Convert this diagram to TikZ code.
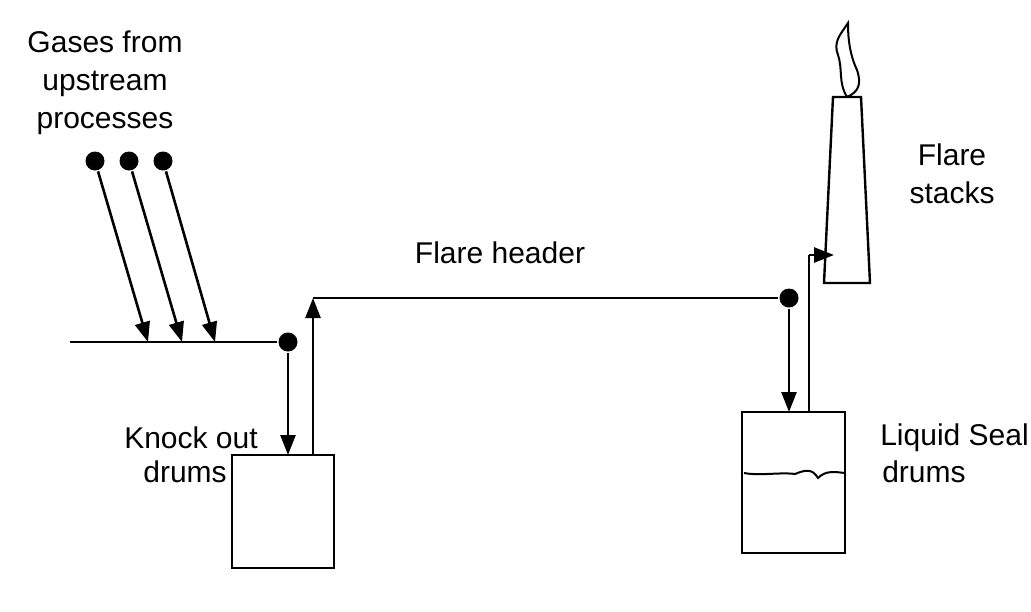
\documentclass[tikz,border=0pt]{standalone}
\usepackage{fontspec}
\setmainfont{Liberation Sans}
\usetikzlibrary{arrows.meta}
\begin{document}
\begin{tikzpicture}[x=1pt,y=-1pt,line width=2.6pt,
  dot/.style={circle,fill=black,inner sep=0pt,minimum size=19pt},
  arr/.style={-{Triangle[length=20pt,width=15pt]}},
  lbl/.style={font=\fontsize{30}{38}\selectfont,inner sep=0pt,align=center},
  box/.style={draw,line width=2.4pt,inner sep=0pt}]
\useasboundingbox (0,0) rectangle (1031,611);
\node[dot] (s1) at (95,161) {};
\node[dot] (s2) at (129,161) {};
\node[dot] (s3) at (163,161) {};
\coordinate (h0) at (70,342);
\coordinate (e1) at (148,342);
\coordinate (e2) at (182,342);
\coordinate (e3) at (215,342);
\node[dot] (j1) at (288,342) {};
\draw (h0) -- (j1);
\draw[arr] (s1) -- (e1);
\draw[arr] (s2) -- (e2);
\draw[arr] (s3) -- (e3);
\node[box,minimum width=102pt,minimum height=113pt] (ko) at (283,511.5) {};
\node[box,minimum width=103pt,minimum height=141pt] (ls) at (793.5,482.5) {};
\coordinate (kin) at (288,455);
\coordinate (kout) at (313,455);
\coordinate (c1) at (313,298);
\node[dot] (j2) at (789,298) {};
\coordinate (lin) at (789,412);
\coordinate (lout) at (809,412);
\coordinate (c2) at (809,255);
\coordinate (sin) at (834,255);
\draw[arr] (j1) -- (kin);
\draw[arr] (kout) -- (c1);
\draw (c1) -- (j2);
\draw[arr] (j2) -- (lin);
\draw (lout) -- (c2);
\draw[arr] (c2) -- (sin);
% liquid level
\draw[line width=2pt] (744,473) .. controls (760,476) and (780,472) .. (795,474) .. controls (805,470) and (812,468) .. (818,478) .. controls (826,470) and (835,472) .. (845,473);
% stack
\draw[line width=2.4pt] (833,97) -- (861,97) -- (870,283) -- (824,283) -- cycle;
% flame
\draw[line width=2pt] (847,97) .. controls (838,82) and (843,70) .. (838,55) .. controls (833,42) and (840,35) .. (848,23) .. controls (848,40) and (850,55) .. (857,70) .. controls (862,85) and (858,92) .. (847,97);
\node[lbl] (t1) at (105,83) {Gases from\\upstream\\processes};
\node[lbl] (t2) at (500,253) {Flare header};
\node[lbl,anchor=west] (t3) at (123,438) {Knock out};
\node[lbl,anchor=east] (t4) at (228,472) {drums};
\node[lbl,anchor=west] (t5) at (879,438) {Liquid Seal};
\node[lbl,anchor=west] (t6) at (881,472) {drums};
\node[lbl] (t7) at (952,174) {Flare\\stacks};
\end{tikzpicture}
\end{document}
